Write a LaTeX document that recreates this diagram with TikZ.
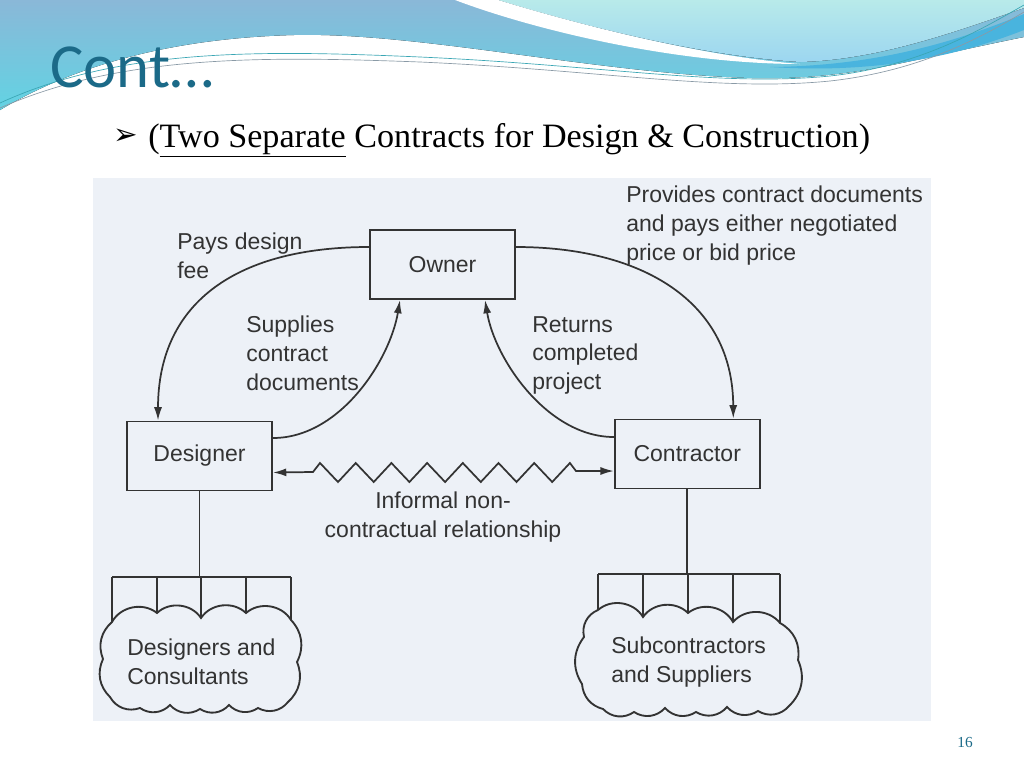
\documentclass[tikz,border=0pt]{standalone}
\usepackage{fontspec}
\setmainfont{Liberation Serif}
\newfontfamily\diagfont{Liberation Sans}
\newfontfamily\titlefont{Carlito}
\newfontfamily\symfont{DejaVu Sans}
\usetikzlibrary{arrows.meta,calc}
\definecolor{panel}{HTML}{EDF1F7}
\definecolor{ln}{HTML}{333333}
\definecolor{txt}{HTML}{333333}
\definecolor{hdA}{HTML}{8AB8D8}
\definecolor{hdB}{HTML}{62D3E3}
\definecolor{aqA}{HTML}{B8EAEA}
\definecolor{aqB}{HTML}{9CD6F0}
\definecolor{stripe}{HTML}{49B4DE}
\definecolor{teal}{HTML}{1B6A88}
\definecolor{thinA}{HTML}{3AA6B4}
\definecolor{thinB}{HTML}{8A9AA6}
\begin{document}
\begin{tikzpicture}[x=0.75pt,y=-0.75pt,
  box/.style={draw=ln, line width=1.4pt, minimum width=108.75pt, minimum height=51.75pt,
    inner sep=0pt, font=\diagfont\fontsize{17.25}{21.4}\selectfont, text=txt},
  lbl/.style={font=\diagfont\fontsize{17.25}{21.4}\selectfont, text=txt, inner sep=0pt,
    align=left, anchor=north west},
  conn/.style={draw=ln, line width=1.3pt},
  arr/.style={conn, -{Latex[length=10pt,width=6pt]}},
  cloudline/.style={draw=ln, line width=1.4pt}
]
\useasboundingbox (0,0) rectangle (1024,768);
\fill[white] (0,0) rectangle (1024,768);
% ---------- header ----------
\fill[top color=hdA, bottom color=hdB] (0,0) -- (1024,0) -- (1024,37)
  .. controls (900,62) and (850,80) .. (752,78)
  .. controls (600,74) and (420,32) .. (294,35)
  .. controls (180,38) and (80,62) .. (0,110) -- cycle;
\fill[top color=aqA, bottom color=aqB] (498,0) .. controls (580,25) and (700,56) .. (800,62)
  .. controls (880,60) and (960,30) .. (1024,8) -- (1024,0) -- cycle;
\fill[white] (455,0) .. controls (540,32) and (680,64) .. (800,64)
  .. controls (700,56) and (580,25) .. (498,0) -- cycle;
\fill[stripe] (770,67) .. controls (880,66) and (960,40) .. (1024,14) -- (1024,30)
  .. controls (960,55) and (880,74) .. (770,67) -- cycle;
\draw[thinA, line width=0.5pt] (0,103) .. controls (120,48) and (260,50) .. (420,57)
  .. controls (600,65) and (720,87) .. (830,76) .. controls (920,66) and (980,30) .. (1024,5);
\draw[thinB, line width=0.5pt] (0,108) .. controls (120,55) and (260,56) .. (420,62)
  .. controls (600,70) and (720,92) .. (830,81) .. controls (920,71) and (980,38) .. (1024,12);
\node[anchor=base west, inner sep=0pt, text=teal, font=\titlefont\fontsize{47}{52}\selectfont]
  (title) at (50,87) {Cont…};
\node[anchor=base west, inner sep=0pt, font=\symfont\fontsize{22}{24}\selectfont]
  (bullet) at (113,144) {➢};
\node[anchor=base west, inner sep=0pt, font=\fontsize{25.6}{30}\selectfont]
  (subtitle) at (148,147) {(\underline{Two Separate} Contracts for Design \& Construction)};
% ---------- panel ----------
\fill[panel] (93,178) rectangle (931,721);
% boxes
\node[box] (owner) at (442.5,264.5) {Owner};
\node[box] (designer) at (199.5,456) {Designer};
\node[box] (contractor) at (687.25,454) {Contractor};
% arrows
\draw[arr] ($(owner.west)+(0,-17.5)$) .. controls (240,247) and (158,300) .. ($(designer.north)+(-41.5,0)$);
\draw[arr] ($(designer.east)+(0,-18)$) .. controls (340,438) and (390,360) .. ($(owner.south)+(-42.5,0)$);
\draw[arr] ($(contractor.west)+(0,-17)$) .. controls (548,437) and (495,360) .. ($(owner.south)+(42.5,0)$);
\draw[arr] ($(owner.east)+(0,-17.5)$) .. controls (640,247) and (733,300) .. ($(contractor.north)+(46,0)$);
% zigzag
\draw[conn, {Latex[length=10pt,width=6pt]}-{Latex[length=10pt,width=6pt]}]
  ($(designer.east)+(0,16.5)$) -- (313,472) -- (320,463) -- (338,482) -- (355.7,463) -- (373.7,482)
  -- (391.4,463) -- (409.4,482) -- (427.1,463) -- (445.1,482) -- (462.8,463) -- (480.8,482)
  -- (498.5,463) -- (516.5,482) -- (534.2,463) -- (552.2,482) -- (569.9,463) -- (576,471)
  -- ($(contractor.west)+(0,17)$);
% labels
\node[lbl] (l1) at (177,233) {Pays design\\fee};
\node[lbl] (l2) at (246,316) {Supplies\\contract\\documents};
\node[lbl] (l3) at (532,316) {Returns\\completed\\project};
\node[lbl] (l4) at (626,186) {Provides contract documents\\and pays either negotiated\\price or bid price};
\node[lbl, align=center, anchor=north] (l5) at (443,492) {Informal non-\\contractual relationship};
% designer tree
\coordinate (db) at (199.5,577);
\coordinate (d1) at (112,622); \coordinate (d2) at (157,613); \coordinate (d3) at (201,618);
\coordinate (d4) at (246,613); \coordinate (d5) at (291,620);
\draw[conn] (designer.south) -- (db);
\draw[conn] (d1 |- db) -- (d5 |- db);
\foreach \p in {d1,d2,d3,d4,d5} \draw[conn] (\p |- db) -- (\p);
\draw[cloudline] (d1) to[bend left=50] (d2) to[bend left=50] (d3) to[bend left=50] (d4)
  to[bend left=50] (d5) to[bend left=35] (297,662) to[bend left=35] (288,702)
  to[bend left=40] (258,708) to[bend left=40] (229,705) to[bend left=40] (200,709)
  to[bend left=40] (170,705) to[bend left=40] (140,708) to[bend left=40] (110,697)
  to[bend left=35] (103,659) to[bend left=35] (d1);
\node[lbl] (c1) at (127,639) {Designers and\\Consultants};
% contractor tree
\coordinate (cb) at (687.25,574);
\coordinate (k1) at (598,610); \coordinate (k2) at (643,617); \coordinate (k3) at (688,613);
\coordinate (k4) at (733,622); \coordinate (k5) at (780,623);
\draw[conn] (contractor.south) -- (cb);
\draw[conn] (k1 |- cb) -- (k5 |- cb);
\foreach \p in {k1,k2,k3,k4,k5} \draw[conn] (\p |- cb) -- (\p);
\draw[cloudline] (k1) to[bend left=50] (k2) to[bend left=50] (k3) to[bend left=50] (k4)
  to[bend left=50] (k5) to[bend left=35] (798,660) to[bend left=35] (789,706)
  to[bend left=40] (758,711) to[bend left=40] (727,707) to[bend left=40] (696,712)
  to[bend left=40] (665,708) to[bend left=40] (634,712) to[bend left=40] (603,709)
  to[bend left=35] (582,684) to[bend left=35] (584,637) to[bend left=40] (k1);
\node[lbl] (c2) at (611,637) {Subcontractors\\and Suppliers};
% page number
\node[anchor=base, inner sep=0pt, text=teal, font=\fontsize{11.5}{12}\selectfont] (pg) at (965,747) {16};
\end{tikzpicture}
\end{document}
